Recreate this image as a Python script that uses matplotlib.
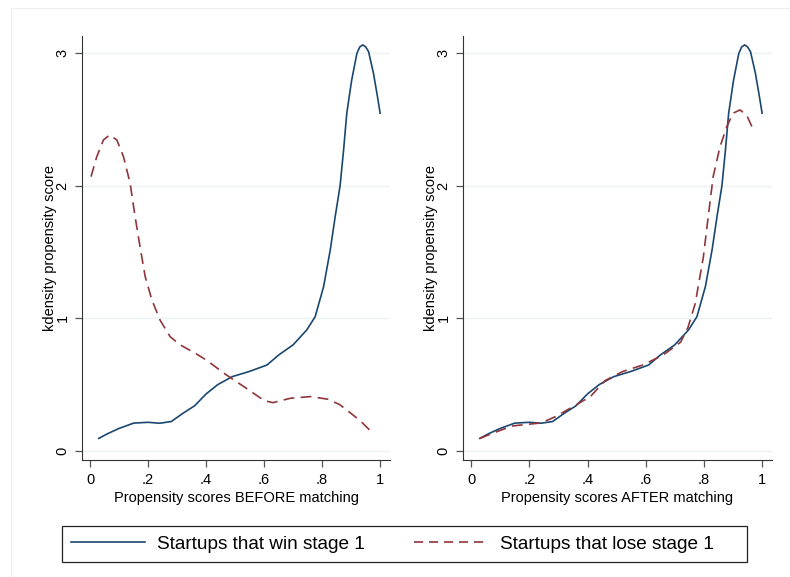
import numpy as np
import matplotlib
matplotlib.use('Agg')
import matplotlib.pyplot as plt
from matplotlib.patches import Rectangle
from matplotlib.lines import Line2D

plt.rcParams['font.family'] = ['Liberation Sans', 'DejaVu Sans']

# kdensity de quem ganha (igual nos dois paineis)
win_x = [0.03, 0.06, 0.10, 0.15, 0.20, 0.24, 0.28, 0.32, 0.36, 0.40, 0.44, 0.49,
         0.55, 0.61, 0.65, 0.70, 0.747, 0.776, 0.805, 0.828, 0.845, 0.862, 0.874,
         0.885, 0.902, 0.92, 0.93, 0.94, 0.95, 0.96, 0.977, 0.99, 1.0]
win_y = [0.095, 0.13, 0.17, 0.21, 0.216, 0.209, 0.222, 0.284, 0.34, 0.43, 0.50, 0.56,
         0.60, 0.648, 0.723, 0.80, 0.912, 1.012, 1.238, 1.515, 1.766, 2.0, 2.268,
         2.545, 2.796, 2.997, 3.045, 3.06, 3.045, 3.01, 2.846, 2.68, 2.545]

# quem perde, antes do matching
lose_bef_x = [0.003, 0.023, 0.046, 0.067, 0.092, 0.115, 0.138, 0.155, 0.172, 0.19,
              0.213, 0.241, 0.276, 0.31, 0.36, 0.40, 0.47, 0.53, 0.60, 0.63, 0.69,
              0.76, 0.82, 0.86, 0.89, 0.93, 0.97]
lose_bef_y = [2.067, 2.218, 2.344, 2.381, 2.344, 2.218, 2.017, 1.766, 1.54, 1.313,
              1.138, 0.987, 0.861, 0.80, 0.74, 0.686, 0.573, 0.485, 0.38, 0.364, 0.397,
              0.41, 0.39, 0.35, 0.30, 0.23, 0.145]

# quem perde, depois do matching
lose_aft_x = [0.03, 0.07, 0.10, 0.14, 0.19, 0.23, 0.26, 0.29, 0.35, 0.41, 0.46, 0.52,
              0.59, 0.66, 0.72, 0.745, 0.77, 0.798, 0.815, 0.832, 0.855, 0.878, 0.90,
              0.924, 0.947, 0.97]
lose_aft_y = [0.095, 0.13, 0.155, 0.188, 0.20, 0.209, 0.23, 0.259, 0.334, 0.41, 0.53,
              0.598, 0.648, 0.723, 0.82, 0.93, 1.11, 1.46, 1.77, 2.07, 2.29, 2.44,
              2.545, 2.57, 2.53, 2.42]

xticks = [0, 0.2, 0.4, 0.6, 0.8, 1.0]
xticklabels = ['0', '.2', '.4', '.6', '.8', '1']
yticks = [0, 1, 2, 3]
xlabels = ['Propensity scores BEFORE matching', 'Propensity scores AFTER matching']
leg_labels = ['Startups that win stage 1', 'Startups that lose stage 1']

blue = '#1a476f'
red = '#90353b'
dash = (0, (6.5, 3.8))

fig = plt.figure(figsize=(7.9, 5.77), dpi=100)
fig.patches.append(Rectangle((11/790, -0.05), 1.0, 1 - 8/577 + 0.05, transform=fig.transFigure,
                             fill=False, edgecolor='#eeeeee', lw=0.8))

ax1 = fig.add_axes([82/790, 1 - 460/577, 308/790, 424/577])
ax2 = fig.add_axes([463/790, 1 - 460/577, 309/790, 424/577])

ax1.plot(win_x, win_y, color=blue, lw=1.2)
ax1.plot(lose_bef_x, lose_bef_y, color=red, lw=1.2, linestyle=dash)
ax2.plot(win_x, win_y, color=blue, lw=1.2)
ax2.plot(lose_aft_x, lose_aft_y, color=red, lw=1.2, linestyle=dash)

for ax, lab in zip([ax1, ax2], xlabels):
    ax.set_xlim(-0.028, 1.034)
    ax.set_ylim(-0.068, 3.127)
    ax.set_xticks(xticks)
    ax.set_xticklabels(xticklabels)
    ax.set_yticks(yticks)
    ax.set_yticklabels([str(t) for t in yticks], rotation=90, va='center')
    ax.spines['top'].set_visible(False)
    ax.spines['right'].set_visible(False)
    ax.spines['left'].set_color('#333333')
    ax.spines['bottom'].set_color('#333333')
    ax.tick_params(direction='out', length=5, width=0.9, color='#555555', labelsize=10.5, pad=4)
    ax.yaxis.grid(True, color='#eaf2f3', lw=1.0)
    ax.set_axisbelow(True)
    ax.set_xlabel(lab, fontsize=10.5, labelpad=3)
    ax.set_ylabel('kdensity propensity score', fontsize=10.5, labelpad=-1)

# caixa da legenda desenhada a parte, itens encostados a esquerda
fig.patches.append(Rectangle((62/790, 1 - 562/577), (747 - 62)/790, 36/577,
                             transform=fig.transFigure, fill=False,
                             edgecolor='#222222', lw=0.9))
handles = [Line2D([], [], color=blue, lw=1.2),
           Line2D([], [], color=red, lw=1.2, linestyle=(0, (5.5, 3.5)))]
fig.legend(handles, leg_labels, loc='center left', ncol=2,
           bbox_to_anchor=(71/790, 1 - 544/577), fontsize=13.7, frameon=False,
           handlelength=3.9, handletextpad=0.63, borderaxespad=0, borderpad=0,
           columnspacing=2.55)

plt.savefig('out.png', dpi=100)
